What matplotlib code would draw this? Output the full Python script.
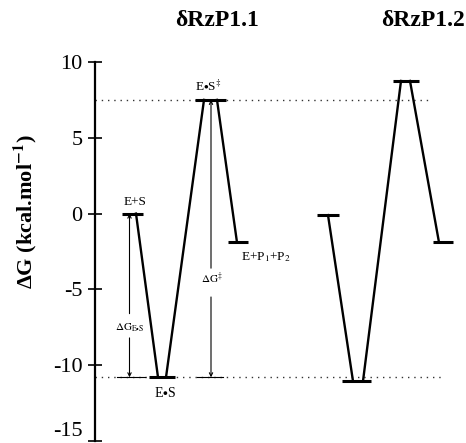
import matplotlib
matplotlib.use("Agg")
import matplotlib.pyplot as plt

plt.rcParams['font.family'] = ['Liberation Serif', 'DejaVu Serif']
plt.rcParams['mathtext.fontset'] = 'stix'

# ---- data (kcal/mol) ----
states = ['E+S', 'E•S', 'E•S‡', 'E+P1+P2']
g_p11 = [0.0, -10.8, 7.5, -1.9]
g_p12 = [-0.1, -11.05, 8.75, -1.9]
ref_levels = [7.5, -10.8]
titles = ['δRzP1.1', 'δRzP1.2']
yticks = [10, 5, 0, -5, -10, -15]

# ---- layout (x in pixel-like units) ----
bars_1 = [(122, 143), (149, 175), (195, 226), (228, 248)]
conn_1 = [(136, 136), (158, 166), (204, 217), (237, 237)]
bars_2 = [(317, 339), (342, 371), (393, 419), (433, 453)]
conn_2 = [(328, 328), (353, 363), (401, 410), (439, 439)]

W, H = 466, 443
fig = plt.figure(figsize=(W / 100, H / 100), dpi=100)
ax = fig.add_axes([95 / W, 1 - 441 / H, (W - 95) / W, (441 - 62) / H])
ax.set_xlim(95, W)
ax.set_ylim(-15, 10)
for s in ['top', 'right', 'bottom']:
    ax.spines[s].set_visible(False)
ax.spines['left'].set_linewidth(1.6)
ax.set_xticks([])
ax.set_yticks(yticks)
ax.set_yticklabels([str(t) for t in yticks])
ax.tick_params(axis='y', direction='inout', length=10, width=1.2, labelsize=16, pad=4)
ax.get_yticklabels()[-1].set_va('bottom')
ax.patch.set_alpha(0)

# reference dotted lines
ax.plot([95, 430], [ref_levels[0]] * 2, ls=(0, (1, 3.5)), lw=1.0, color='#333333', clip_on=False)
ax.plot([95, 443], [ref_levels[1]] * 2, ls=(0, (1, 3.5)), lw=1.0, color='#333333', clip_on=False)

def diagram(g, bars, conn):
    for (x0, x1), y in zip(bars, g):
        ax.plot([x0, x1], [y, y], color='black', lw=2.2, solid_capstyle='butt')
    for i in range(len(g) - 1):
        ax.plot([conn[i][1], conn[i + 1][0]], [g[i], g[i + 1]], color='black', lw=1.7)

diagram(g_p11, bars_1, conn_1)
diagram(g_p12, bars_2, conn_2)

# thin reference segments under arrows
ax.plot([117, 145], [g_p11[1]] * 2, color='black', lw=0.8)
ax.plot([197, 223], [g_p11[1]] * 2, color='black', lw=0.8)

# arrows
ap = dict(arrowstyle='->', lw=0.8, color='black', shrinkA=0, shrinkB=0, mutation_scale=6)
ax.annotate('', xy=(129.5, g_p11[0]), xytext=(129.5, -6.6), arrowprops=ap)
ax.annotate('', xy=(129.5, g_p11[1]), xytext=(129.5, -8.2), arrowprops=ap)
ax.text(130, -7.5, r'$\Delta\mathrm{G}_{\mathrm{E{\bullet}S}}$', fontsize=8, ha='center', va='center')
ax.annotate('', xy=(211, g_p11[2]), xytext=(211, -3.6), arrowprops=ap)
ax.annotate('', xy=(211, g_p11[1]), xytext=(211, -5.5), arrowprops=ap)
ax.text(212, -4.3, r'$\Delta\mathrm{G}^{\ddagger}$', fontsize=8, ha='center', va='center')

# state labels
ax.text(135, 0.35, 'E+S', fontsize=9.5, ha='center', va='bottom')
ax.text(165, -11.4, r'E$\bullet$S', fontsize=10, ha='center', va='top')
ax.text(208, 7.9, r'E$\bullet$S$^{\ddagger}$', fontsize=9.5, ha='center', va='bottom')
ax.text(241, -2.4, r'E+P$_1$+P$_2$', fontsize=9.5, ha='left', va='top')

# titles
fig.text(217 / W, 1 - 20 / H, titles[0], fontsize=17, fontweight='bold', ha='center', va='center')
fig.text(423 / W, 1 - 20 / H, titles[1], fontsize=17, fontweight='bold', ha='center', va='center')

# y label
fig.text(25 / W, 1 - 212 / H, r'ΔG (kcal.mol$^{\mathbf{-1}}$)', fontsize=16, fontweight='bold',
         rotation=90, ha='center', va='center')

fig.savefig('out.png', dpi=100)
